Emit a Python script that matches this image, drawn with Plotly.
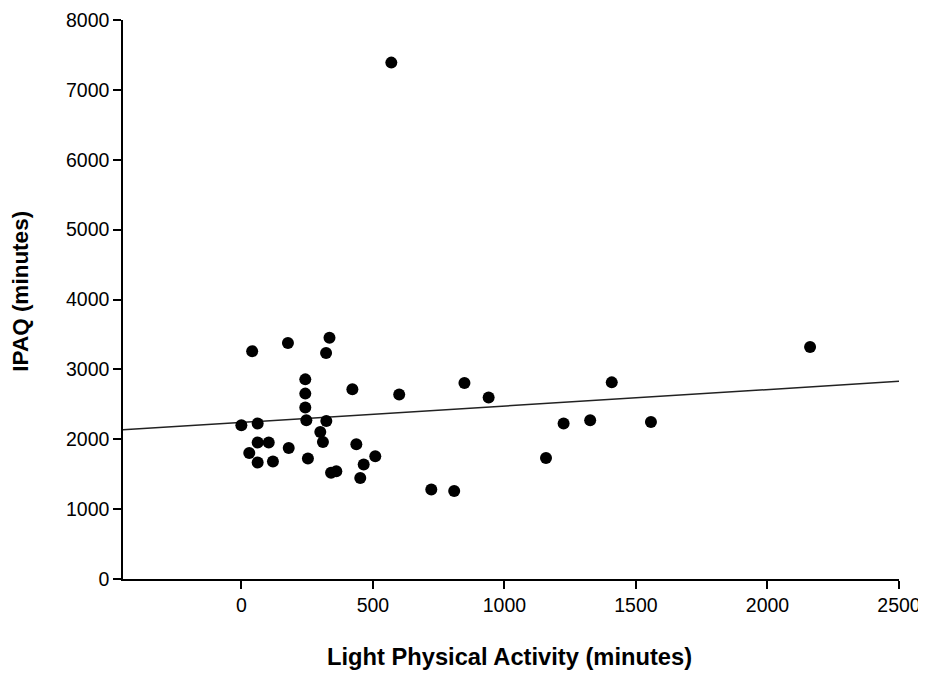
import numpy as np
import plotly.graph_objects as go

# Light physical activity (minutes) vs IPAQ (minutes)
lpa_minutes = [570, 41, 177, 335, 322, 243, 243, 243, 247, 422, 600, 848, 940, 1408, 2162,
               0, 62, 323, 300, 310, 62, 104, 30, 62, 120, 180, 253, 437, 465, 509,
               341, 361, 452, 722, 809, 1158, 1225, 1326, 1557]
ipaq_minutes = [7390, 3261, 3376, 3453, 3233, 2857, 2653, 2453, 2271, 2714, 2639, 2804, 2596, 2814, 3319,
                2200, 2224, 2261, 2104, 1961, 1953, 1953, 1804, 1667, 1681, 1876, 1724, 1929, 1639, 1757,
                1519, 1543, 1447, 1281, 1261, 1733, 2224, 2271, 2247]

x_ticks = [0, 500, 1000, 1500, 2000, 2500]
y_ticks = [0, 1000, 2000, 3000, 4000, 5000, 6000, 7000, 8000]
x_range = [-450, 2500]
y_range = [0, 8000]
x_title = "Light Physical Activity (minutes)"
y_title = "IPAQ (minutes)"

slope, intercept = np.polyfit(lpa_minutes, ipaq_minutes, 1)
fit_x = np.array(x_range, dtype=float)
fit_y = slope * fit_x + intercept

tick_font = dict(family="Liberation Sans, Arial", size=19.5, color="black")

fig = go.Figure()
fig.add_trace(go.Scatter(x=fit_x, y=fit_y, mode="lines",
                         line=dict(color="#222222", width=1.5), hoverinfo="skip", showlegend=False))
fig.add_trace(go.Scatter(x=lpa_minutes, y=ipaq_minutes, mode="markers",
                         marker=dict(color="black", size=12, line=dict(width=0)), showlegend=False))

# the page body adds an 8px offset, so the figure is sized to fit the window
fig.update_layout(
    width=918, height=667,
    margin=dict(l=115, r=27, t=12, b=96),
    plot_bgcolor="white", paper_bgcolor="white",
    showlegend=False,
    annotations=[
        dict(text="<b>" + x_title + "</b>", xref="paper", yref="paper", x=0.4987, y=-0.1395,
             xanchor="center", yanchor="middle", showarrow=False,
             font=dict(family="Liberation Sans, Arial", size=23.7, color="black")),
        dict(text="<b>" + y_title + "</b>", xref="paper", yref="paper", x=-0.1314, y=0.514,
             xanchor="center", yanchor="middle", textangle=-90, showarrow=False,
             font=dict(family="Liberation Sans, Arial", size=22.5, color="black")),
    ],
)
fig.update_xaxes(range=x_range, tickvals=x_ticks, ticktext=[str(v) for v in x_ticks],
                 showgrid=False, zeroline=False, showline=True, linecolor="black", linewidth=1.5,
                 ticks="outside", ticklen=8, tickwidth=1.5, tickcolor="black",
                 tickfont=tick_font, automargin=False)
fig.update_yaxes(range=y_range, tickvals=y_ticks, ticktext=[str(v) for v in y_ticks],
                 showgrid=False, zeroline=False, showline=True, linecolor="black", linewidth=1.5,
                 ticks="outside", ticklen=8, tickwidth=1.5, tickcolor="black",
                 tickfont=tick_font, automargin=False)

fig.write_html("out.html")
